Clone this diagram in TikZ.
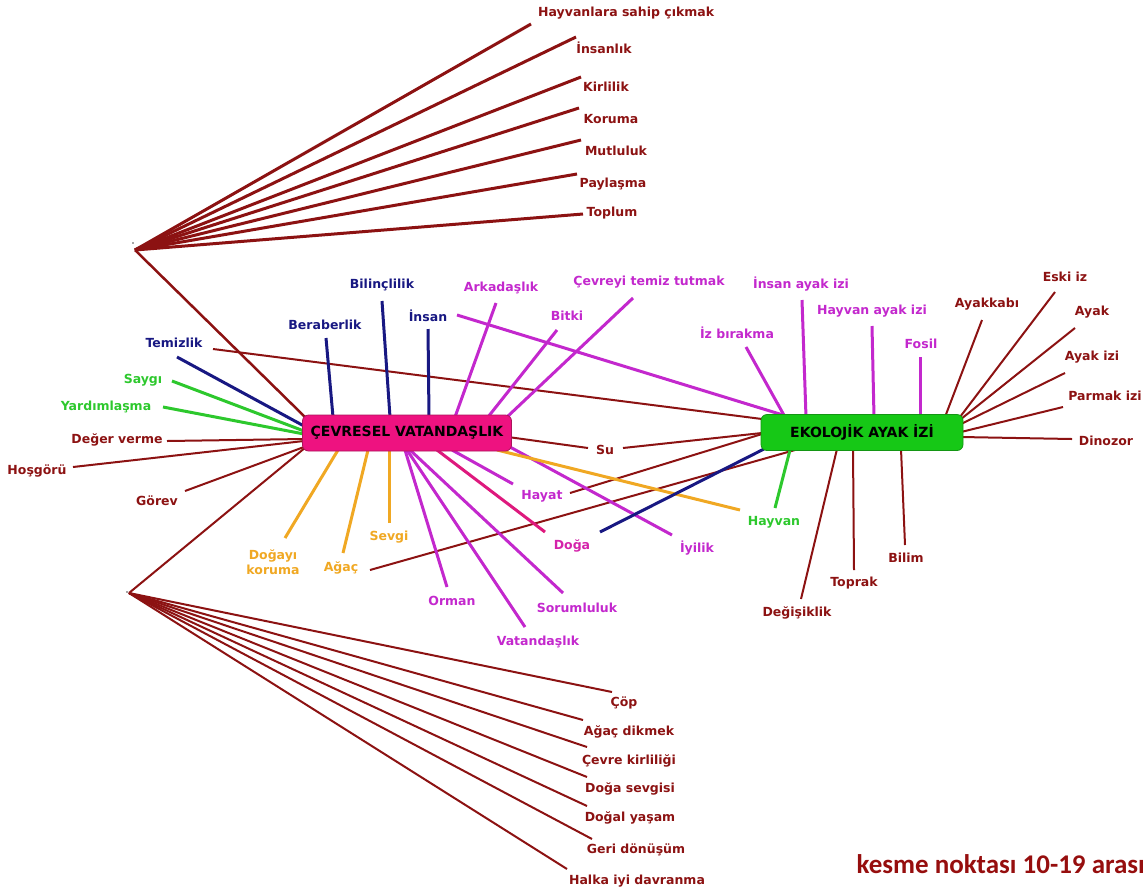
\documentclass[tikz,border=0pt]{standalone}
\usepackage{fontspec}
\setmainfont{DejaVu Sans}
\newfontfamily\calib{Carlito}
\definecolor{dred}{RGB}{140,18,18}
\definecolor{kred}{RGB}{150,14,14}
\definecolor{navyb}{RGB}{24,24,130}
\definecolor{lgreen}{RGB}{45,200,45}
\definecolor{orng}{RGB}{240,168,35}
\definecolor{purp}{RGB}{195,40,205}
\definecolor{pinkC}{RGB}{238,18,128}
\definecolor{greenE}{RGB}{22,200,22}
\definecolor{dogaC}{RGB}{222,25,125}
\definecolor{dogaT}{RGB}{212,35,170}
\begin{document}
\begin{tikzpicture}[x=1pt,y=-1pt,
  lbl/.style={font=\bfseries\fontsize{12.5}{14.5}\selectfont,inner sep=0pt},
  hub/.style={rounded corners=6pt,minimum height=36pt,inner sep=0pt,font=\bfseries\fontsize{14}{16}\selectfont,text=black,line width=0.8pt},
  cb/.style={line width=2pt,draw=dred},
  cf/.style={line width=3pt,draw=dred},
  cl/.style={line width=3pt},
  ]
\useasboundingbox (0,0) rectangle (1148,895);

% ---------- coordinates: fan origins ----------
\coordinate (fT) at (135,250);
\coordinate (fB) at (129,593);
\fill[black!70] (133,243) circle (0.8pt);
\fill[black!70] (127,592) circle (0.8pt);

% ---------- top fan ----------
\coordinate (t1) at (531,24);
\coordinate (t2) at (576,37);
\coordinate (t3) at (581,77);
\coordinate (t4) at (579,108);
\coordinate (t5) at (581,140);
\coordinate (t6) at (577,174);
\coordinate (t7) at (583,214);
\foreach \i in {1,...,7} \draw[cf] (fT) -- (t\i);
\coordinate (cTL) at (305,417);
\draw[cb,line width=2.5pt] (fT) -- (cTL);

% ---------- bottom fan ----------
\coordinate (b1) at (612,692);
\coordinate (b2) at (583,720);
\coordinate (b3) at (587,747);
\coordinate (b4) at (587,777);
\coordinate (b5) at (587,806);
\coordinate (b6) at (592,839);
\coordinate (b7) at (567,869);
\foreach \i in {1,...,7} \draw[cb] (fB) -- (b\i);
\coordinate (cBL) at (306,447);
\draw[cb] (fB) -- (cBL);

% ---------- long brown cross lines ----------
\coordinate (sTem) at (213,349);
\coordinate (eTem) at (762,419);
\draw[cb] (sTem) -- (eTem);
\coordinate (sSu1) at (508,437);
\coordinate (eSu1) at (588,448);
\coordinate (sSu2) at (623,448);
\coordinate (eSu2) at (762,433);
\draw[cb] (sSu1) -- (eSu1);
\draw[cb] (sSu2) -- (eSu2);
\coordinate (sHayB) at (570,493);
\coordinate (eHayB) at (762,434);
\draw[cb] (sHayB) -- (eHayB);
\coordinate (sAgB) at (370,570);
\coordinate (eAgB) at (795,450);
\draw[cb] (sAgB) -- (eAgB);

% ---------- left of C ----------
\coordinate (pTem) at (177,357);  \coordinate (qTem) at (304,426);
\coordinate (pSay) at (172,381);  \coordinate (qSay) at (304,431);
\coordinate (pYar) at (163,407);  \coordinate (qYar) at (304,434);
\coordinate (pDeg) at (167,441);  \coordinate (qDeg) at (304,439);
\coordinate (pHos) at (73,467);   \coordinate (qHos) at (304,441);
\coordinate (pGor) at (185,491);  \coordinate (qGor) at (304,447);
\draw[cl,navyb] (pTem) -- (qTem);
\draw[cl,lgreen] (pSay) -- (qSay);
\draw[cl,lgreen] (pYar) -- (qYar);
\draw[cb] (pDeg) -- (qDeg);
\draw[cb] (pHos) -- (qHos);
\draw[cb] (pGor) -- (qGor);

% ---------- top of C ----------
\coordinate (pBer) at (326,338); \coordinate (qBer) at (333,417);
\coordinate (pBil) at (382,301); \coordinate (qBil) at (390,417);
\coordinate (pIns) at (428,329); \coordinate (qIns) at (429,417);
\coordinate (pArk) at (496,303); \coordinate (qArk) at (455,417);
\coordinate (pBit) at (557,330); \coordinate (qBit) at (488,417);
\coordinate (pCev) at (633,298); \coordinate (qCev) at (507,417);
\draw[cl,navyb] (pBer) -- (qBer);
\draw[cl,navyb] (pBil) -- (qBil);
\draw[cl,navyb] (pIns) -- (qIns);
\draw[cl,purp] (pArk) -- (qArk);
\draw[cl,purp] (pBit) -- (qBit);
\draw[cl,purp] (pCev) -- (qCev);
\coordinate (sInsM) at (457,315); \coordinate (eInsM) at (783,415);
\draw[cl,purp] (sInsM) -- (eInsM);

% ---------- below / right of C ----------
\coordinate (pHay) at (513,484); \coordinate (qHay) at (452,450);
\coordinate (pDog) at (545,532); \coordinate (qDog) at (437,450);
\coordinate (pIyi) at (672,535); \coordinate (qIyi) at (510,447);
\coordinate (pHvO) at (740,510); \coordinate (qHvO) at (497,450);
\draw[cl,purp] (pHay) -- (qHay);
\draw[cl,dogaC] (pDog) -- (qDog);
\draw[cl,purp] (pIyi) -- (qIyi);
\draw[cl,orng] (pHvO) -- (qHvO);
\coordinate (sDogB) at (600,532); \coordinate (eDogB) at (764,449);
\draw[cl,navyb] (sDogB) -- (eDogB);
\coordinate (pHvG) at (775,508); \coordinate (qHvG) at (790,450);
\draw[cl,lgreen] (pHvG) -- (qHvG);

\coordinate (pDgk) at (285,538); \coordinate (qDgk) at (338,450);
\coordinate (pAga) at (343,553); \coordinate (qAga) at (368,450);
\coordinate (pSev) at (389,523); \coordinate (qSev) at (389,450);
\coordinate (pOrm) at (447,587); \coordinate (qOrm) at (405,450);
\coordinate (pVat) at (525,627); \coordinate (qVat) at (407,450);
\coordinate (pSor) at (563,593); \coordinate (qSor) at (410,450);
\draw[cl,orng] (pDgk) -- (qDgk);
\draw[cl,orng] (pAga) -- (qAga);
\draw[cl,orng] (pSev) -- (qSev);
\draw[cl,purp] (pOrm) -- (qOrm);
\draw[cl,purp] (pVat) -- (qVat);
\draw[cl,purp] (pSor) -- (qSor);

% ---------- around E ----------
\coordinate (pIzb) at (746,347); \coordinate (qIzb) at (785,417);
\coordinate (pIai) at (802,300); \coordinate (qIai) at (806,417);
\coordinate (pHai) at (872,326); \coordinate (qHai) at (874,417);
\coordinate (pFos) at (920,357); \coordinate (qFos) at (920,417);
\draw[cl,purp] (pIzb) -- (qIzb);
\draw[cl,purp] (pIai) -- (qIai);
\draw[cl,purp] (pHai) -- (qHai);
\draw[cl,purp] (pFos) -- (qFos);

\coordinate (pAyk) at (982,320); \coordinate (qAyk) at (945,417);
\coordinate (pEsk) at (1055,292); \coordinate (qEsk) at (960,417);
\coordinate (pAya) at (1075,328); \coordinate (qAya) at (961,419);
\coordinate (pAyi) at (1065,373); \coordinate (qAyi) at (961,424);
\coordinate (pPar) at (1063,407); \coordinate (qPar) at (961,432);
\coordinate (pDin) at (1072,439); \coordinate (qDin) at (961,437);
\draw[cb] (pAyk) -- (qAyk);
\draw[cb] (pEsk) -- (qEsk);
\draw[cb] (pAya) -- (qAya);
\draw[cb] (pAyi) -- (qAyi);
\draw[cb] (pPar) -- (qPar);
\draw[cb] (pDin) -- (qDin);

\coordinate (pDgs) at (801,599); \coordinate (qDgs) at (837,449);
\coordinate (pTop) at (854,570); \coordinate (qTop) at (853,449);
\coordinate (pBlm) at (905,545); \coordinate (qBlm) at (901,449);
\draw[cb] (pDgs) -- (qDgs);
\draw[cb] (pTop) -- (qTop);
\draw[cb] (pBlm) -- (qBlm);

% ---------- hubs ----------
\node[hub,fill=pinkC,draw={rgb,255:red,170;green,20;blue,90},minimum width=209pt] (C) at (407,433) {ÇEVRESEL VATANDAŞLIK};
\node[hub,fill=greenE,draw={rgb,255:red,20;green,150;blue,20},minimum width=202pt] (E) at (862,432.5) {EKOLOJİK AYAK İZİ};

% ---------- labels ----------
\begin{scope}[every node/.style={lbl}]
\node[text=dred,anchor=west] (lT1) at (538,13) {Hayvanlara sahip çıkmak};
\node[text=dred] (lT2) at (604,48) {İnsanlık};
\node[text=dred] (lT3) at (606,87) {Kirlilik};
\node[text=dred] (lT4) at (611,119) {Koruma};
\node[text=dred] (lT5) at (616,151) {Mutluluk};
\node[text=dred] (lT6) at (613,184) {Paylaşma};
\node[text=dred] (lT7) at (612,213) {Toplum};

\node[text=dred] (lB1) at (624,703) {Çöp};
\node[text=dred] (lB2) at (629,732) {Ağaç dikmek};
\node[text=dred] (lB3) at (629,761) {Çevre kirliliği};
\node[text=dred] (lB4) at (630,789) {Doğa sevgisi};
\node[text=dred] (lB5) at (630,818) {Doğal yaşam};
\node[text=dred] (lB6) at (636,850) {Geri dönüşüm};
\node[text=dred] (lB7) at (637,881) {Halka iyi davranma};

\node[text=navyb] (lTem) at (174,343) {Temizlik};
\node[text=lgreen] (lSay) at (143,380) {Saygı};
\node[text=lgreen] (lYar) at (106,407) {Yardımlaşma};
\node[text=dred] (lDeg) at (117,440) {Değer verme};
\node[text=dred] (lHos) at (37,471) {Hoşgörü};
\node[text=dred] (lGor) at (157,501) {Görev};

\node[text=navyb] (lBer) at (325,325) {Beraberlik};
\node[text=navyb] (lBil) at (382,285) {Bilinçlilik};
\node[text=navyb] (lIns) at (428,316) {İnsan};
\node[text=purp] (lArk) at (501,288) {Arkadaşlık};
\node[text=purp] (lBit) at (567,316) {Bitki};
\node[text=purp] (lCev) at (649,282) {Çevreyi temiz tutmak};

\node[text=dred] (lSu) at (605,450) {Su};
\node[text=purp] (lHay) at (542,496) {Hayat};
\node[text=dogaT] (lDog) at (572,546) {Doğa};
\node[text=purp] (lIyi) at (697,548) {İyilik};
\node[text=lgreen] (lHvn) at (774,522) {Hayvan};

\node[text=orng,align=center,font=\bfseries\fontsize{12.5}{15.5}\selectfont] (lDgk) at (273,562) {Doğayı\\koruma};
\node[text=orng] (lAga) at (341,568) {Ağaç};
\node[text=orng] (lSev) at (389,537) {Sevgi};
\node[text=purp] (lOrm) at (452,601) {Orman};
\node[text=purp] (lVat) at (538,642) {Vatandaşlık};
\node[text=purp] (lSor) at (577,608) {Sorumluluk};

\node[text=purp] (lIzb) at (737,333) {İz bırakma};
\node[text=purp] (lIai) at (801,284) {İnsan ayak izi};
\node[text=purp] (lHai) at (872,311) {Hayvan ayak izi};
\node[text=purp] (lFos) at (921,344) {Fosil};

\node[text=dred] (lAyk) at (987,304) {Ayakkabı};
\node[text=dred] (lEsk) at (1065,277) {Eski iz};
\node[text=dred] (lAya) at (1092,312) {Ayak};
\node[text=dred] (lAyi) at (1092,357) {Ayak izi};
\node[text=dred] (lPar) at (1105,396) {Parmak izi};
\node[text=dred] (lDin) at (1106,441) {Dinozor};

\node[text=dred] (lDgs) at (797,613) {Değişiklik};
\node[text=dred] (lTop) at (854,583) {Toprak};
\node[text=dred] (lBlm) at (906,558) {Bilim};
\end{scope}

\node[text=kred,font=\calib\bfseries\fontsize{27}{30}\selectfont,inner sep=0pt,anchor=east] (kesme) at (1145,864) {kesme noktası 10-19 arası};
\end{tikzpicture}
\end{document}
